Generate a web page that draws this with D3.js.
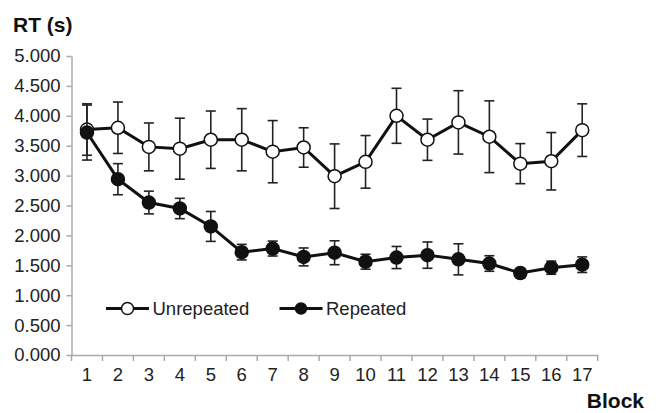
<!DOCTYPE html>
<html>
<head>
<meta charset="utf-8">
<script src="https://cdn.jsdelivr.net/npm/d3@7"></script>
<style>
	body { margin: 0; background: #fff; }
	svg { display: block; font-family: 'Liberation Sans', Arial, Helvetica, sans-serif; }
	.axis path, .axis line { stroke: #aaa; stroke-width: 1.5; }
	.axis text { font-size: 18.5px; fill: #222; }
	.title { font-size: 21px; font-weight: bold; fill: #111; }
	.legend text { font-size: 18.5px; fill: #222; }
</style>
</head>
<body>
<div id="graphic"></div>
<script>
var blocks = [1, 2, 3, 4, 5, 6, 7, 8, 9, 10, 11, 12, 13, 14, 15, 16, 17];
var yTicks = [0, 0.5, 1, 1.5, 2, 2.5, 3, 3.5, 4, 4.5, 5];

var unrepeated = [3.77, 3.80, 3.48, 3.45, 3.60, 3.60, 3.40, 3.47, 2.99, 3.23, 4.00, 3.60, 3.89, 3.65, 3.20, 3.24, 3.76];
var unrepeatedErr = [0.43, 0.43, 0.40, 0.51, 0.48, 0.52, 0.52, 0.33, 0.54, 0.44, 0.46, 0.345, 0.53, 0.60, 0.335, 0.48, 0.44];
var repeated = [3.72, 2.94, 2.55, 2.45, 2.15, 1.72, 1.78, 1.64, 1.71, 1.56, 1.63, 1.67, 1.60, 1.53, 1.37, 1.46, 1.51];
var repeatedErr = [0.46, 0.26, 0.19, 0.17, 0.25, 0.13, 0.125, 0.15, 0.20, 0.125, 0.185, 0.22, 0.26, 0.13, 0.08, 0.11, 0.13];

var width = 660, height = 413;
var margin = { top: 56, right: 62.3, bottom: 58, left: 71.5 };

var svg = d3.select('#graphic')
	.append('svg')
	.attr('width', width)
	.attr('height', height);

var x = d3.scaleBand()
	.domain(blocks)
	.range([margin.left, width - margin.right]);

var y = d3.scaleLinear()
	.domain([0, 5])
	.range([height - margin.bottom, margin.top]);

// y axis
svg.append('g')
	.attr('class', 'y axis')
	.attr('transform', 'translate(' + margin.left + ',0)')
	.call(d3.axisLeft(y).tickValues(yTicks).tickFormat(d3.format('.3f')).tickSizeInner(5).tickSizeOuter(0).tickPadding(6));

// x axis - labels centred, ticks on the band edges
var xAxisG = svg.append('g')
	.attr('class', 'x axis')
	.attr('transform', 'translate(0,' + y(0) + ')')
	.call(d3.axisBottom(x).tickSize(0).tickPadding(13));

var edges = blocks.map(function (b) { return x(b); }).concat([x.range()[1]]);
xAxisG.selectAll('line.edge')
	.data(edges)
	.enter()
	.append('line')
	.attr('class', 'edge')
	.attr('x1', function (d) { return d; })
	.attr('x2', function (d) { return d; })
	.attr('y1', 0)
	.attr('y2', 6);

// titles
svg.append('text')
	.attr('class', 'title')
	.attr('x', 13)
	.attr('y', 31.5)
	.text('RT (s)');

svg.append('text')
	.attr('class', 'title')
	.attr('x', 644)
	.attr('y', 408)
	.attr('text-anchor', 'end')
	.text('Block');

var series = [
	{ name: 'Unrepeated', values: unrepeated, err: unrepeatedErr, fill: '#fff', r: 6.5 },
	{ name: 'Repeated', values: repeated, err: repeatedErr, fill: '#111', r: 6.5 }
];

var cx = function (i) { return x(blocks[i]) + x.bandwidth() / 2; };
var line = d3.line()
	.x(function (d, i) { return cx(i); })
	.y(function (d) { return y(d); });

series.forEach(function (s) {
	var g = svg.append('g').attr('class', 'series');

	var eb = g.selectAll('g.err')
		.data(s.values)
		.enter()
		.append('g')
		.attr('class', 'err')
		.attr('stroke', '#222')
		.attr('stroke-width', 1.6);

	eb.append('line')
		.attr('x1', function (d, i) { return cx(i); })
		.attr('x2', function (d, i) { return cx(i); })
		.attr('y1', function (d, i) { return y(d + s.err[i]); })
		.attr('y2', function (d, i) { return y(d - s.err[i]); });

	[1, -1].forEach(function (sign) {
		eb.append('line')
			.attr('x1', function (d, i) { return cx(i) - 5; })
			.attr('x2', function (d, i) { return cx(i) + 5; })
			.attr('y1', function (d, i) { return y(d + sign * s.err[i]); })
			.attr('y2', function (d, i) { return y(d + sign * s.err[i]); });
	});

	g.append('path')
		.datum(s.values)
		.attr('fill', 'none')
		.attr('stroke', '#111')
		.attr('stroke-width', 3)
		.attr('d', line);

	g.selectAll('circle')
		.data(s.values)
		.enter()
		.append('circle')
		.attr('cx', function (d, i) { return cx(i); })
		.attr('cy', function (d) { return y(d); })
		.attr('r', s.r)
		.attr('fill', s.fill)
		.attr('stroke', '#111')
		.attr('stroke-width', 1.5);
});

// legend
var legend = svg.append('g').attr('class', 'legend');
var legendX = [106, 279.5];
series.forEach(function (s, i) {
	var lg = legend.append('g').attr('transform', 'translate(' + legendX[i] + ',308.5)');
	lg.append('line')
		.attr('x1', 0).attr('x2', 43)
		.attr('stroke', '#111')
		.attr('stroke-width', 3);
	lg.append('circle')
		.attr('cx', 21.5)
		.attr('r', i === 0 ? 6 : 5.5)
		.attr('fill', s.fill)
		.attr('stroke', '#111')
		.attr('stroke-width', 1.5);
	lg.append('text')
		.attr('x', 46.5)
		.attr('dy', '0.35em')
		.text(s.name);
});
</script>
</body>
</html>
